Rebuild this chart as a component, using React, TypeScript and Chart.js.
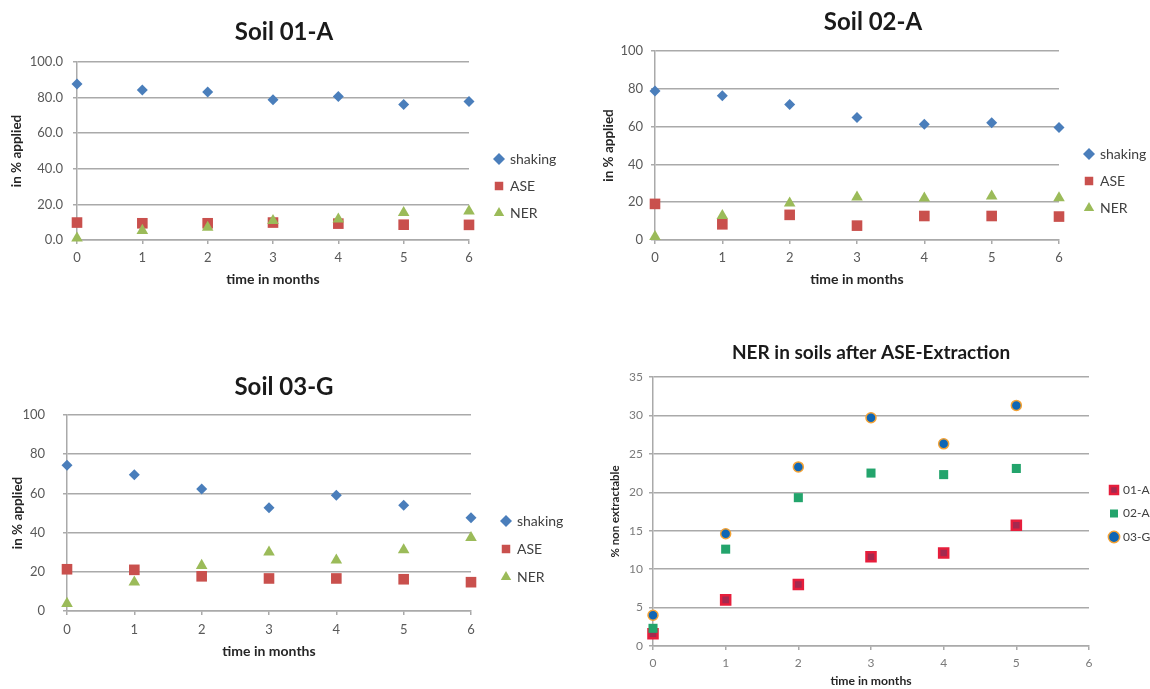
import React, { useEffect, useRef } from 'react';
import { Chart, registerables } from 'chart.js';

Chart.register(...registerables);

// ---------- data ----------
const months = [0, 1, 2, 3, 4, 5, 6];
const monthsNer = [0, 1, 2, 3, 4, 5];

const soil01Shaking = [87.6, 84.2, 83.1, 78.8, 80.6, 76.1, 77.8];
const soil01ASE = [9.8, 9.4, 9.4, 9.8, 9.2, 8.6, 8.5];
const soil01NER = [1.0, 5.3, 7.1, 10.9, 11.7, 15.4, 16.2];

const soil02Shaking = [78.8, 76.3, 71.7, 64.8, 61.2, 62.1, 59.5];
const soil02ASE = [19.1, 8.3, 13.3, 7.6, 12.7, 12.7, 12.4];
const soil02NER = [1.8, 12.9, 19.5, 22.7, 22.1, 23.2, 22.3];

const soil03Shaking = [74.4, 69.5, 62.3, 52.7, 59.0, 53.9, 47.6];
const soil03ASE = [21.3, 21.0, 17.7, 16.6, 16.6, 16.2, 14.7];
const soil03NER = [3.8, 14.7, 23.2, 30.0, 25.9, 31.2, 37.4];

const ner01A = [1.6, 6.0, 8.0, 11.6, 12.1, 15.7];
const ner02A = [2.3, 12.6, 19.3, 22.5, 22.3, 23.1];
const ner03G = [4.0, 14.6, 23.3, 29.7, 26.3, 31.3];

const seriesNames = ['shaking', 'ASE', 'NER'];
const nerNames = ['01-A', '02-A', '03-G'];

const FONT = 'Lato, "Open Sans", sans-serif';
const GRID = '#aaaaaa';
const TICK = '#595959';

const pts = (xs: number[], ys: number[]) => xs.map((x, i) => ({ x, y: ys[i] }));

const soilSets = (a: number[], b: number[], c: number[]) => [
  { label: seriesNames[0], data: pts(months, a), pointStyle: 'rectRot', pointRadius: 5.5, pointBackgroundColor: '#4a7ebb', pointBorderColor: '#4a7ebb', backgroundColor: '#4a7ebb', borderColor: '#4a7ebb', pointBorderWidth: 0, borderWidth: 0 },
  { label: seriesNames[1], data: pts(months, b), pointStyle: 'rect', pointRadius: 7.5, pointBackgroundColor: '#c9504d', pointBorderColor: '#c9504d', backgroundColor: '#c9504d', borderColor: '#c9504d', pointBorderWidth: 0, borderWidth: 0 },
  { label: seriesNames[2], data: pts(months, c), pointStyle: 'triangle', pointRadius: 6.7, pointBackgroundColor: '#9bbb59', pointBorderColor: '#9bbb59', backgroundColor: '#9bbb59', borderColor: '#9bbb59', pointBorderWidth: 0, borderWidth: 0 },
];

const nerSets = () => [
  { label: nerNames[0], data: pts(monthsNer, ner01A), pointStyle: 'rect', pointRadius: 6.4, pointBackgroundColor: '#a3294f', pointBorderColor: '#e61e3c', backgroundColor: '#a3294f', borderColor: '#e61e3c', pointBorderWidth: 2.5, borderWidth: 2.5 },
  { label: nerNames[1], data: pts(monthsNer, ner02A), pointStyle: 'rect', pointRadius: 6.4, pointBackgroundColor: '#23a46c', pointBorderColor: '#23a46c', backgroundColor: '#23a46c', borderColor: '#23a46c', pointBorderWidth: 0, borderWidth: 0 },
  { label: nerNames[2], data: pts(monthsNer, ner03G), pointStyle: 'circle', pointRadius: 5, pointBackgroundColor: '#0f66b5', pointBorderColor: '#f3a235', backgroundColor: '#0f66b5', borderColor: '#f3a235', pointBorderWidth: 1.5, borderWidth: 1.5 },
];

type Cfg = {
  name: string;
  left: number; top: number; w: number; h: number;
  pad: { left: number; right: number; top: number; bottom: number };
  title: string; titleSize: number; titlePadTop: number; titlePadBottom: number;
  yW: number; xH: number; gapW: number;
  yMax: number; yStep: number; yDecimals: number;
  xMax: number;
  yTitle: string; yTitleSize: number; yTitlePad: number;
  xTitleSize: number; xTitlePad: number;
  tickSize: number; tickColor: string; yTickPad: number; xTickPad: number;
  legendW: number; legendT: number; legendFont: number; legendPad: number; legendBoxW: number; legendBoxH: number;
  datasets: any[];
};

function Panel({ cfg }: { cfg: Cfg }) {
  const ref = useRef<HTMLCanvasElement>(null);
  useEffect(() => {
    const chart = new Chart(ref.current as HTMLCanvasElement, {
      type: 'scatter',
      data: {
        datasets: cfg.datasets.map((d, i) => ({ ...d, order: -i, showLine: false, clip: false, yAxisID: 'y', xAxisID: 'x' })),
      },
      options: {
        animation: false,
        responsive: false,
        devicePixelRatio: 1,
        layout: { padding: cfg.pad },
        plugins: {
          tooltip: { enabled: false },
          title: {
            display: true,
            text: cfg.title,
            color: '#1a1a1a',
            font: { family: FONT, weight: 'bold', size: cfg.titleSize, lineHeight: 1.2 },
            padding: { top: cfg.titlePadTop, bottom: cfg.titlePadBottom },
          },
          legend: {
            position: 'right',
            align: 'start',
            fullSize: false,
            maxWidth: cfg.legendW,
            title: { display: true, text: ' ', font: { size: 1, lineHeight: 1 }, padding: { top: cfg.legendT - 1, bottom: 0 } },
            labels: {
              usePointStyle: true,
              boxWidth: cfg.legendBoxW,
              boxHeight: cfg.legendBoxH,
              padding: cfg.legendPad,
              color: '#404040',
              font: { family: FONT, size: cfg.legendFont },
              sort: (a: any, b: any) => a.datasetIndex - b.datasetIndex,
            },
          },
        },
        scales: {
          x: {
            type: 'linear',
            min: 0,
            max: cfg.xMax,
            afterFit: (s: any) => { s.height = cfg.xH; },
            ticks: { stepSize: 1, color: cfg.tickColor, padding: cfg.xTickPad, font: { family: FONT, size: cfg.tickSize } },
            grid: { drawOnChartArea: false, drawTicks: true, tickLength: 4, color: GRID, lineWidth: 1.5 },
            border: { display: true, color: GRID, width: 1.5 },
            title: { display: true, text: 'time in months', color: '#262626', font: { family: FONT, weight: 'bold', size: cfg.xTitleSize }, padding: { top: 0, bottom: cfg.xTitlePad } },
          },
          y: {
            type: 'linear',
            position: 'left',
            min: 0,
            max: cfg.yMax,
            afterFit: (s: any) => { s.width = cfg.yW; },
            ticks: { stepSize: cfg.yStep, color: cfg.tickColor, padding: cfg.yTickPad, font: { family: FONT, size: cfg.tickSize }, callback: (v: any) => Number(v).toFixed(cfg.yDecimals) },
            grid: { drawOnChartArea: true, drawTicks: true, tickLength: 4, color: GRID, lineWidth: 1.5 },
            border: { display: true, color: GRID, width: 1.5 },
            title: { display: true, text: cfg.yTitle, color: '#262626', font: { family: FONT, weight: 'bold', size: cfg.yTitleSize }, padding: { top: cfg.yTitlePad, bottom: 0 } },
          },
          gap: {
            type: 'linear',
            position: 'right',
            display: true,
            afterFit: (s: any) => { s.width = cfg.gapW; },
            ticks: { display: false },
            grid: { display: false },
            border: { display: false },
          },
        },
      } as any,
    });
    return () => chart.destroy();
  }, []);
  return (
    <canvas
      ref={ref}
      width={cfg.w}
      height={cfg.h}
      style={{ position: 'absolute', left: cfg.left, top: cfg.top, width: cfg.w, height: cfg.h }}
    />
  );
}

const common = {
  titleSize: 24,
  yMax: 100, yStep: 20, xMax: 6,
  yTitle: 'in % applied', yTitleSize: 13.5,
  xTitleSize: 14,
  tickSize: 13, tickColor: TICK,
  legendFont: 14, legendBoxW: 8, legendBoxH: 8.5, legendW: 78,
};

const panels: Cfg[] = [
  {
    ...common,
    name: 'p1', left: 0, top: 0, w: 575, h: 300,
    pad: { left: 8, right: 15, top: 0, bottom: 0 },
    title: 'Soil 01-A', titlePadTop: 18, titlePadBottom: 15.2,
    yW: 69, xH: 60, gapW: 13,
    yDecimals: 1, yTitlePad: 1, xTitlePad: 12,
    yTickPad: 10, xTickPad: 6,
    legendT: 77, legendPad: 13,
    datasets: soilSets(soil01Shaking, soil01ASE, soil01NER),
  },
  {
    ...common,
    name: 'p2', left: 560, top: 0, w: 590, h: 300,
    pad: { left: 36, right: 0, top: 0, bottom: 0 },
    title: 'Soil 02-A', titlePadTop: 7.6, titlePadBottom: 14.6,
    yW: 59, xH: 60, gapW: 13,
    yDecimals: 0, yTitlePad: 4.3, xTitlePad: 12,
    yTickPad: 8, xTickPad: 6,
    legendT: 83, legendPad: 13,
    datasets: soilSets(soil02Shaking, soil02ASE, soil02NER),
  },
  {
    ...common,
    name: 'p3', left: 0, top: 340, w: 575, h: 349,
    pad: { left: 2, right: 9, top: 0, bottom: 18 },
    title: 'Soil 03-G', titlePadTop: 32.6, titlePadBottom: 13.6,
    yW: 65, xH: 60, gapW: 17,
    yDecimals: 0, yTitlePad: 8, xTitlePad: 10.8,
    yTickPad: 18, xTickPad: 7,
    legendT: 85, legendPad: 14,
    datasets: soilSets(soil03Shaking, soil03ASE, soil03NER),
  },
  {
    ...common,
    name: 'p4', left: 560, top: 320, w: 590, h: 369,
    pad: { left: 32, right: 0, top: 0, bottom: 0 },
    title: 'NER in soils after ASE-Extraction', titleSize: 19, titlePadTop: 21.6, titlePadBottom: 12.6,
    yW: 61, xH: 43, gapW: 10.5,
    yMax: 35, yStep: 5, xMax: 6,
    yDecimals: 0, yTitle: '% non extractable', yTitleSize: 11.5, yTitlePad: 16.7,
    xTitleSize: 12.2, xTitlePad: 0.7,
    tickSize: 12, tickColor: '#7a7a7a', yTickPad: 6, xTickPad: 6.4,
    legendT: 95.5, legendPad: 11.5, legendFont: 12, legendBoxW: 6, legendBoxH: 8, legendW: 50.5,
    datasets: nerSets(),
  },
];

export default function App() {
  return (
    <div style={{ position: 'absolute', left: 0, top: 0, width: 1150, height: 689, overflow: 'hidden', background: '#ffffff' }}>
      {panels.map((p) => (
        <Panel key={p.name} cfg={p} />
      ))}
    </div>
  );
}
